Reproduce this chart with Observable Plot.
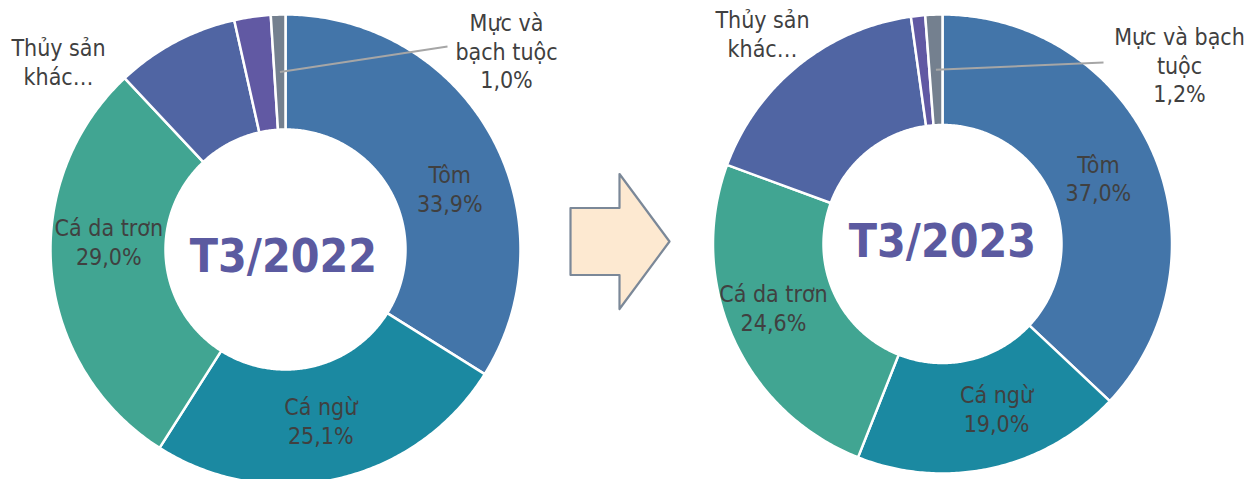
<!DOCTYPE html>
<html><head><meta charset="utf-8">
<script src="https://cdn.jsdelivr.net/npm/d3@7"></script>
<script src="https://cdn.jsdelivr.net/npm/@observablehq/plot@0.6"></script>
<style>body{margin:0;background:#fff} #chart svg{display:block}</style>
</head><body><div id="chart"></div>
<script>
// ---- data ----
const categories = ["Tôm", "Cá ngừ", "Cá da trơn", "Thủy sản khác…", "Khác", "Mực và bạch tuộc"];
const colors = ["#4375a9", "#1b89a1", "#41a592", "#5065a3", "#6159a3", "#74808f"];
const periods = ["T3/2022", "T3/2023"];
const values2022 = [33.9, 25.1, 29.0, 8.5, 2.5, 1.0];
const values2023 = [37.0, 19.0, 24.6, 17.2, 1.0, 1.2];
const otherLabel = ["Thủy sản\nkhác…", "Thủy sản\nkhác…"];
const squidLabel = ["Mực và\nbạch tuộc", "Mực và bạch\ntuộc"];

// ---- layout ----
const W = 1250, H = 479;
const FONT = "'DejaVu Sans Condensed', 'DejaVu Sans', sans-serif";
const layout = [
  {cx: 285, cy: 249, rOut: 235, rIn: 120, title: [-2, 8],
   nudges: [[9, 25], [-4, -2], [0, -25]], other: [58, 61], squid: [506, 50], squidEnd: [447, 46]},
  {cx: 942, cy: 243.5, rOut: 229.5, rIn: 119, title: [0, -2],
   nudges: [[-4, 3], [16, -6], [-10, -8]], other: [762, 33], squid: [1179, 64], squidEnd: [1103, 62]}
];
const arrow = {x: 570, y: 241, bodyLen: 49, headLen: 50, bodyH: 67, headH: 135};

const fmt = v => v.toFixed(1).replace(".", ",") + "%";
const series = [values2022, values2023];
const pie = d3.pie().sort(null).value(d => d);

const slicePts = [], inLabels = [], outLabels = [], leaders = [], titles = [];
series.forEach((vals, k) => {
  const L = layout[k];
  const pt = (a, r) => [L.cx + r * Math.sin(a), L.cy - r * Math.cos(a)];
  const arcs = pie(vals);
  arcs.forEach((a, i) => {
    const key = k + "-" + i;
    const n = Math.max(2, Math.ceil((a.endAngle - a.startAngle) / 0.01));
    const ring = [];
    for (let j = 0; j <= n; j++) ring.push(pt(a.startAngle + (a.endAngle - a.startAngle) * j / n, L.rOut));
    for (let j = n; j >= 0; j--) ring.push(pt(a.startAngle + (a.endAngle - a.startAngle) * j / n, L.rIn));
    ring.push(ring[0]);
    ring.forEach(([x, y]) => slicePts.push({key, cat: categories[i], x, y}));
    const mid = (a.startAngle + a.endAngle) / 2;
    const rMid = (L.rOut + L.rIn) / 2;
    if (i < 3) {
      const [x, y] = pt(mid, rMid);
      inLabels.push({x: x + L.nudges[i][0], y: y + L.nudges[i][1], text: categories[i] + "\n" + fmt(vals[i])});
    } else if (i === 3) {
      outLabels.push({x: L.other[0], y: L.other[1], text: otherLabel[k]});
    } else if (i === 5) {
      outLabels.push({x: L.squid[0], y: L.squid[1], text: squidLabel[k] + "\n" + fmt(vals[i])});
      const [x1, y1] = pt(mid, rMid);
      leaders.push({x1, y1, x2: L.squidEnd[0], y2: L.squidEnd[1]});
    }
  });
  titles.push({x: L.cx + L.title[0], y: L.cy + L.title[1], text: periods[k]});
});

const A = arrow;
const arrowPts = [
  [A.x, A.y - A.bodyH / 2], [A.x + A.bodyLen, A.y - A.bodyH / 2], [A.x + A.bodyLen, A.y - A.headH / 2],
  [A.x + A.bodyLen + A.headLen, A.y], [A.x + A.bodyLen, A.y + A.headH / 2], [A.x + A.bodyLen, A.y + A.bodyH / 2],
  [A.x, A.y + A.bodyH / 2], [A.x, A.y - A.bodyH / 2]
].map(([x, y]) => ({x, y}));

const chart = Plot.plot({
  width: W, height: H, margin: 0,
  x: {domain: [0, W], range: [0, W], axis: null},
  y: {domain: [0, H], range: [0, H], axis: null},
  color: {domain: categories, range: colors},
  style: {fontFamily: FONT, background: "#fff"},
  marks: [
    Plot.line(slicePts, {x: "x", y: "y", z: "key", fill: "cat", stroke: "white", strokeWidth: 2.5, curve: "linear"}),
    Plot.line(arrowPts, {x: "x", y: "y", fill: "#fde9d1", stroke: "#7b8898", strokeWidth: 2.2}),
    Plot.link(leaders, {x1: "x1", y1: "y1", x2: "x2", y2: "y2", stroke: "#a6a6a6", strokeWidth: 2}),
    Plot.text(inLabels, {x: "x", y: "y", text: "text", fontSize: 23, lineHeight: 1.25, fill: "#404040"}),
    Plot.text(outLabels, {x: "x", y: "y", text: "text", fontSize: 23, lineHeight: 1.25, fill: "#404040"}),
    Plot.text(titles, {x: "x", y: "y", text: "text", fontSize: 46, fontWeight: "bold", fill: "#5b5aa0"})
  ]
});
document.getElementById("chart").appendChild(chart);
</script>
</body></html>
